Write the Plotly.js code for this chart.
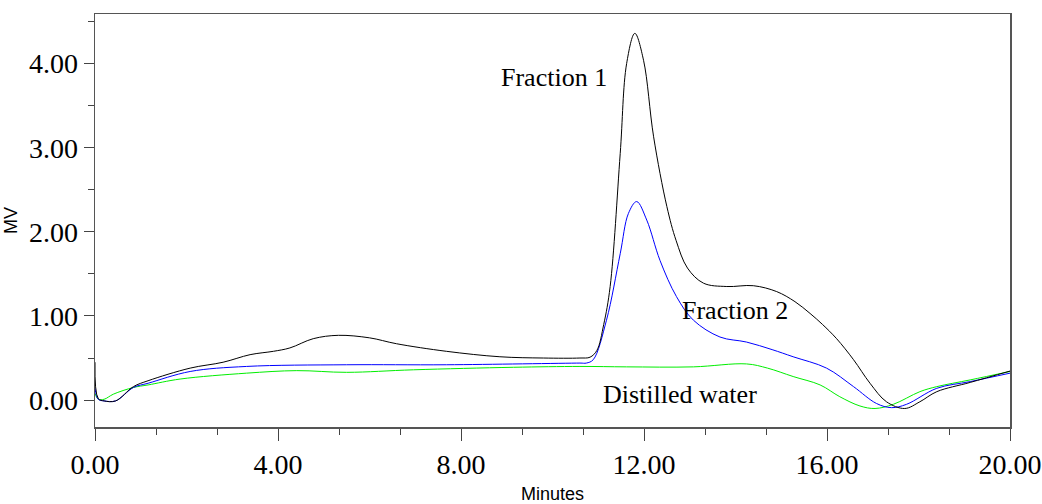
<!DOCTYPE html>
<html>
<head>
<meta charset="utf-8">
<script src="https://cdn.plot.ly/plotly-3.0.1.min.js"></script>
<style>html,body{margin:0;padding:0;background:#fff;}#chart{width:1042px;height:504px;}</style>
</head>
<body>
<div id="chart"></div>
<script>
// Fraction 1 (black)
var f1Minutes = [0, 0.07, 0.2, 0.45, 0.84, 1.16, 2.08, 2.8, 3.39, 3.9, 4.26, 4.77, 5.32, 6.0, 6.59, 7.68, 8.85, 9.8, 10.6, 10.82, 10.97, 11.12, 11.26, 11.48, 11.62, 11.80, 11.99, 12.21, 12.50, 12.7, 12.95, 13.30, 13.81, 14.39, 14.90, 15.3, 15.63, 15.9, 16.21, 16.58, 16.94, 17.30, 17.70, 18.03, 18.40, 19.13, 20.0];
var f1MV = [0.45, 0.02, -0.01, -0.01, 0.16, 0.23, 0.38, 0.45, 0.54, 0.58, 0.62, 0.73, 0.77, 0.74, 0.67, 0.58, 0.515, 0.50, 0.50, 0.51, 0.59, 0.9, 1.35, 2.93, 4.00, 4.36, 4.04, 3.13, 2.30, 1.90, 1.57, 1.39, 1.35, 1.36, 1.29, 1.17, 1.03, 0.90, 0.73, 0.48, 0.20, -0.02, -0.10, -0.02, 0.10, 0.21, 0.345];
// Fraction 2 (blue)
var f2Minutes = [0, 0.07, 0.2, 0.45, 0.84, 1.16, 2.08, 3.31, 5.5, 7.68, 10.6, 10.74, 10.89, 11.18, 11.48, 11.66, 11.84, 12.06, 12.35, 12.71, 13.08, 13.66, 14.24, 14.8, 15.26, 15.99, 16.58, 17.08, 17.41, 17.74, 18.40, 19.13, 20.0];
var f2MV = [0.14, 0.01, -0.01, -0.01, 0.15, 0.20, 0.34, 0.40, 0.42, 0.42, 0.44, 0.44, 0.48, 0.95, 1.74, 2.22, 2.36, 2.14, 1.66, 1.23, 0.95, 0.75, 0.69, 0.60, 0.515, 0.38, 0.16, -0.04, -0.09, -0.05, 0.14, 0.22, 0.32];
// Distilled water (green)
var waterMinutes = [0, 0.07, 0.2, 0.4, 0.84, 1.16, 1.86, 3.31, 4.41, 5.5, 6.96, 9.15, 10.6, 11.62, 13.08, 14.24, 14.7, 15.26, 15.85, 16.28, 16.72, 17.05, 17.45, 18.03, 18.40, 19.13, 20.0];
var waterMV = [0.08, 0.01, 0.01, 0.07, 0.15, 0.18, 0.25, 0.32, 0.35, 0.33, 0.36, 0.39, 0.40, 0.395, 0.395, 0.43, 0.38, 0.28, 0.18, 0.04, -0.07, -0.10, -0.05, 0.10, 0.16, 0.24, 0.34];

var labels = ["Fraction 1", "Fraction 2", "Distilled water"];
var labelX = [10.03, 13.99, 12.79];
var labelY = [3.84, 1.07, 0.07];

var serif = "Liberation Serif, Times New Roman, serif";
var sans = "Liberation Sans Narrow, Arial Narrow, Liberation Sans, Arial, sans-serif";

function tr(x, y, c, n) {
  return {x: x, y: y, mode: "lines", name: n, line: {color: c, width: 1, shape: "spline", smoothing: 1}, hoverinfo: "x+y"};
}
var data = [
  tr(waterMinutes, waterMV, "#00ee00", labels[2]),
  tr(f2Minutes, f2MV, "#0000ff", labels[1]),
  tr(f1Minutes, f1MV, "#000000", labels[0])
];

var annotations = labels.map(function (t, i) {
  return {x: labelX[i], y: labelY[i], xref: "x", yref: "y", text: t, showarrow: false,
    font: {family: serif, size: 26, color: "#000"}};
});

var layout = {
  width: 1042, height: 504,
  margin: {l: 95, r: 32, t: 14, b: 77},
  paper_bgcolor: "#fff", plot_bgcolor: "#fff",
  showlegend: false,
  xaxis: {
    range: [0, 20], dtick: 4, tick0: 0, tickformat: ".2f",
    ticks: "outside", ticklen: 12, tickwidth: 1, tickcolor: "#444",
    minor: {dtick: 4 / 3, tick0: 0, ticks: "outside", ticklen: 6, tickcolor: "#444", showgrid: false},
    showgrid: false, zeroline: false,
    showline: true, linecolor: "#555", linewidth: 1.5, mirror: true,
    tickfont: {family: serif, size: 28, color: "#000"},
    title: {text: "Minutes", font: {family: sans, size: 18, color: "#000"}, standoff: 10}
  },
  yaxis: {
    range: [-0.32, 4.59], dtick: 1, tick0: 0, tickformat: ".2f",
    ticks: "outside", ticklen: 10, tickwidth: 1, tickcolor: "#444",
    minor: {dtick: 0.5, tick0: 0, ticks: "outside", ticklen: 6, tickcolor: "#444", showgrid: false},
    showgrid: false, zeroline: false,
    showline: true, linecolor: "#555", linewidth: 1.5, mirror: true,
    tickfont: {family: serif, size: 28, color: "#000"},
    title: {text: "MV", font: {family: sans, size: 18, color: "#000"}, standoff: 6}
  },
  annotations: annotations
};

Plotly.newPlot("chart", data, layout, {displayModeBar: false, staticPlot: true});
</script>
</body>
</html>
